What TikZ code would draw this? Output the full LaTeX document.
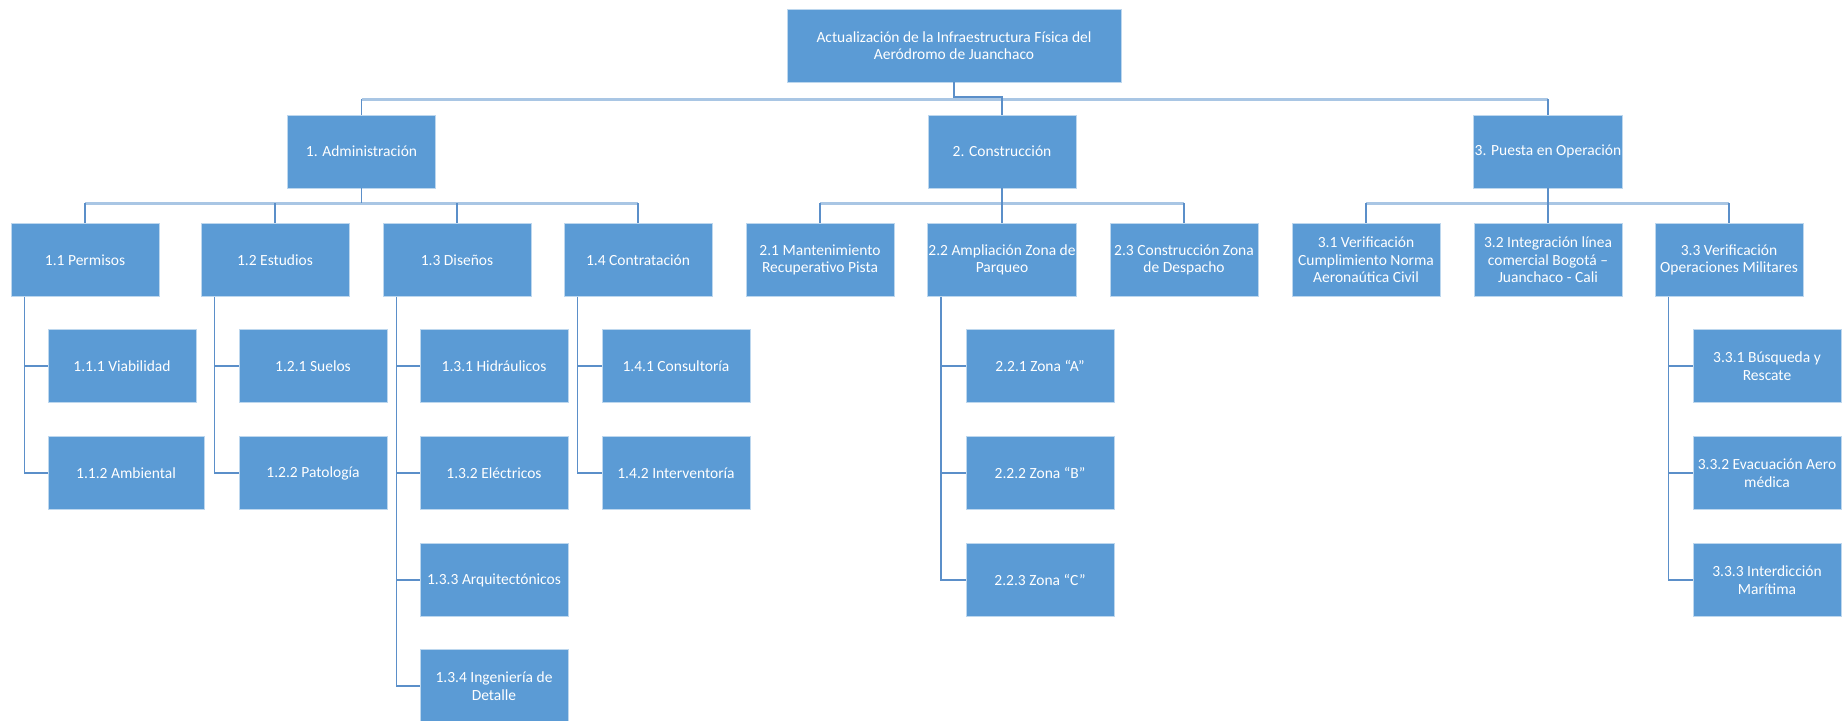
\documentclass[tikz,border=0pt]{standalone}
\usepackage{fontspec}
\setmainfont{Carlito}
\usepackage{tikz}
\definecolor{boxblue}{HTML}{5B9BD5}
\definecolor{boxedge}{HTML}{BDD7EE}
\definecolor{lnblue}{HTML}{5B8FC9}
\definecolor{busblue}{HTML}{A9C6E4}
\tikzstyle{bx}=[rectangle,fill=boxblue,draw=boxedge,line width=0.8pt,text=white,minimum width=148pt,minimum height=73pt,inner sep=1pt,align=center,font=\fontsize{15.5}{17.5}\selectfont]
\tikzstyle{ln}=[draw=lnblue,line width=1.4pt]
\tikzstyle{bus}=[draw=busblue,line width=3pt]

\begin{document}
\begin{tikzpicture}[x=1pt,y=-1pt]
\useasboundingbox (0,0) rectangle (1844,720);
\clip (0,0) rectangle (1844,720);
% bus levels
\coordinate (b0) at (0,99); \coordinate (b1) at (0,203);
% top and first level
\node[bx,minimum width=334pt] (top) at (954,45.5) {Actualización de la Infraestructura Física del\\Aeródromo de Juanchaco};
\node[bx] (adm) at (361.5,151.5) {1. Administración};
\node[bx] (con) at (1002,151.5) {2. Construcción};
\node[bx] (pue) at (1548,151.5) {3. Puesta en Operación};
% second level
\node[bx] (a1) at (85,260) {1.1 Permisos};
\node[bx] (a2) at (275,260) {1.2 Estudios};
\node[bx] (a3) at (457,260) {1.3 Diseños};
\node[bx] (a4) at (638,260) {1.4 Contratación};
\node[bx] (c1) at (820,260) {2.1 Mantenimiento\\Recuperativo Pista};
\node[bx] (c2) at (1002,260) {2.2 Ampliación Zona de\\Parqueo};
\node[bx] (c3) at (1184,260) {2.3 Construcción Zona\\de Despacho};
\node[bx] (p1) at (1366,260) {3.1 Verificación\\Cumplimiento Norma\\Aeronaútica Civil};
\node[bx] (p2) at (1548,260) {3.2 Integración línea\\comercial Bogotá --\\Juanchaco - Cali};
\node[bx] (p3) at (1729,260) {3.3 Verificación\\Operaciones Militares};
% third level
\node[bx] (a11) at (122,366) {1.1.1 Viabilidad};
\node[bx,minimum width=156pt] (a12) at (126,473) {1.1.2 Ambiental};
\node[bx] (a21) at (313,366) {1.2.1 Suelos};
\node[bx] (a22) at (313,473) {1.2.2 Patología};
\node[bx] (a31) at (494,366) {1.3.1 Hidráulicos};
\node[bx] (a32) at (494,473) {1.3.2 Eléctricos};
\node[bx] (a33) at (494,580) {1.3.3 Arquitectónicos};
\node[bx] (a34) at (494,686) {1.3.4 Ingeniería de\\Detalle};
\node[bx] (a41) at (676,366) {1.4.1 Consultoría};
\node[bx] (a42) at (676,473) {1.4.2 Interventoría};
\node[bx] (c21) at (1040,366) {2.2.1 Zona “A”};
\node[bx] (c22) at (1040,473) {2.2.2 Zona “B”};
\node[bx] (c23) at (1040,580) {2.2.3 Zona “C”};
\node[bx] (p31) at (1767,366) {3.3.1 Búsqueda y\\Rescate};
\node[bx] (p32) at (1767,473) {3.3.2 Evacuación Aero\\médica};
\node[bx] (p33) at (1767,580) {3.3.3 Interdicción\\Marítima};
% connectors top
\draw[bus] (adm.north |- b0) -- (pue.north |- b0);
\draw[ln] (top.south) -- ([yshift=2pt]top.south |- b0) -| (con.north);
\draw[ln] (adm.north |- b0) -- (adm.north); \draw[ln] (pue.north |- b0) -- (pue.north);
% connectors second level
\draw[bus] (a1.north |- b1) -- (a4.north |- b1);
\draw[bus] (c1.north |- b1) -- (c3.north |- b1);
\draw[bus] (p1.north |- b1) -- (p3.north |- b1);
\foreach \p/\c in {adm/a1,adm/a2,adm/a3,adm/a4,con/c1,con/c2,con/c3,pue/p1,pue/p2,pue/p3}{
  \draw[ln] (\c.north |- b1) -- (\c.north);
}
\foreach \p in {adm,con,pue}{ \draw[ln] (\p.south) -- (\p.south |- b1); }
% spines
\foreach \p/\cl/\l in {a1/{a11,a12}/a12,a2/{a21,a22}/a22,a3/{a31,a32,a33,a34}/a34,a4/{a41,a42}/a42,c2/{c21,c22,c23}/c23,p3/{p31,p32,p33}/p33}{
  \draw[ln] ([xshift=14pt]\p.south west) |- (\l.west);
  \foreach \c in \cl { \draw[ln] ([xshift=14pt]\p.south west |- \c.west) -- (\c.west); }
}
\end{tikzpicture}
\end{document}
